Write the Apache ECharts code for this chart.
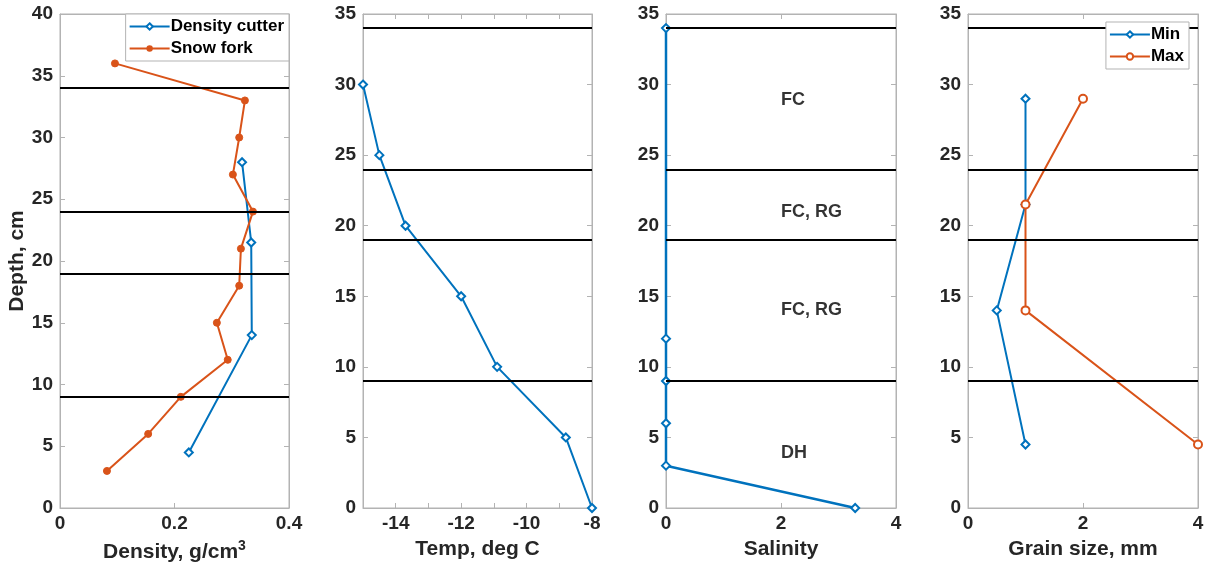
<!DOCTYPE html>
<html>
<head>
<meta charset="utf-8">
<script src="https://cdn.jsdelivr.net/npm/echarts@6/dist/echarts.min.js"></script>
<style>html,body{margin:0;padding:0;background:#fff;}#c{width:1209px;height:571px;}</style>
</head>
<body>
<div id="c"></div>
<script>
// ---- Data ----
var layerBoundaries = [9, 19, 24, 34];

var cutterDepth = [4.5, 14, 21.5, 28];
var cutterDensity = [0.225, 0.335, 0.334, 0.318];

var forkDepth = [3, 6, 9, 12, 15, 18, 21, 24, 27, 30, 33, 36];
var forkDensity = [0.082, 0.154, 0.211, 0.293, 0.274, 0.313, 0.316, 0.337, 0.302, 0.313, 0.323, 0.096];

var tempDepth = [30, 25, 20, 15, 10, 5, 0];
var tempValue = [-15, -14.5, -13.7, -12, -10.9, -8.8, -8];

var salDepth = [34, 12, 9, 6, 3, 0];
var salValue = [0, 0, 0, 0, 0, 3.29];

var layerLabels = ['FC', 'FC, RG', 'FC, RG', 'DH'];
var layerLabelDepths = [28.9, 21, 14, 3.9];
var layerLabelX = 2;

var grainDepth = [29, 21.5, 14, 4.5];
var grainMin = [1, 1, 0.5, 1];
var grainMax = [2, 1, 1, 4];

// ---- Styles ----
var BLUE = '#0072BD', ORANGE = '#D95319', TXT = '#262626', BOX = '#b3b3b3';
var FONT = 'Liberation Sans';
var lblStyle = {color: TXT, fontSize: 19, fontWeight: 'bold', fontFamily: FONT};
var nameStyle = {color: TXT, fontSize: 21, fontWeight: 'bold', fontFamily: FONT,
  rich: {sup: {fontSize: 14, fontWeight: 'bold', color: TXT, fontFamily: FONT, verticalAlign: 'top', padding: [0,0,12,0]}}};

var grids = [
  {left: 60, top: 14, width: 229, height: 494},
  {left: 363, top: 14, width: 229, height: 494},
  {left: 666, top: 14, width: 230, height: 494},
  {left: 968, top: 14, width: 230, height: 494}
];
grids.forEach(function(g){ g.show = true; g.borderColor = BOX; g.borderWidth = 1; g.backgroundColor = '#fff'; });

var xSpec = [
  {min: 0, max: 0.4, interval: 0.2, name: 'Density, g/cm{sup|3}'},
  {min: -15, max: -8, interval: 1, name: 'Temp, deg C'},
  {min: 0, max: 4, interval: 2, name: 'Salinity'},
  {min: 0, max: 4, interval: 2, name: 'Grain size, mm'}
];
var ySpec = [
  {min: 0, max: 40, interval: 5, name: 'Depth, cm'},
  {min: 0, max: 35, interval: 5, name: ''},
  {min: 0, max: 35, interval: 5, name: ''},
  {min: 0, max: 35, interval: 5, name: ''}
];

function xFmt(i){
  return function(v){
    if (i === 1) { var r = Math.round(v); if (r % 2 !== 0) return ''; return String(r); }
    if (i === 0) { return v === 0 ? '0' : String(Math.round(v*10)/10); }
    return String(v);
  };
}

var xAxes = [], yAxes = [];
for (var i = 0; i < 4; i++) {
  var xs = xSpec[i], ys = ySpec[i];
  var tickInt = (i === 1) ? function(idx, v){ return Math.round(v) % 2 === 0; } : 'auto';
  xAxes.push({type: 'value', gridIndex: i, position: 'bottom', min: xs.min, max: xs.max, interval: xs.interval,
    name: xs.name, nameLocation: 'middle', nameGap: 31, nameTextStyle: nameStyle,
    axisLine: {show: true, onZero: false, lineStyle: {color: BOX}},
    axisTick: {show: true, inside: true, length: 5, lineStyle: {color: BOX}, interval: tickInt},
    axisLabel: {show: true, margin: 6, formatter: xFmt(i), ...lblStyle}, splitLine: {show: false}});
  xAxes.push({type: 'value', gridIndex: i, position: 'top', min: xs.min, max: xs.max, interval: xs.interval,
    axisLine: {show: true, onZero: false, lineStyle: {color: BOX}},
    axisTick: {show: true, inside: true, length: 5, lineStyle: {color: BOX}, interval: tickInt},
    axisLabel: {show: false}, splitLine: {show: false}});
  yAxes.push({type: 'value', gridIndex: i, position: 'left', min: ys.min, max: ys.max, interval: ys.interval,
    name: ys.name, nameLocation: 'middle', nameGap: 32, nameRotate: 90, nameTextStyle: nameStyle,
    axisLine: {show: true, onZero: false, lineStyle: {color: BOX}},
    axisTick: {show: true, inside: true, length: 5, lineStyle: {color: BOX}},
    axisLabel: {show: true, margin: 7, ...lblStyle}, splitLine: {show: false}});
  yAxes.push({type: 'value', gridIndex: i, position: 'right', min: ys.min, max: ys.max, interval: ys.interval,
    axisLine: {show: true, onZero: false, lineStyle: {color: BOX}},
    axisTick: {show: true, inside: true, length: 5, lineStyle: {color: BOX}},
    axisLabel: {show: false}, splitLine: {show: false}});
}

function pairs(xv, yv){ return xv.map(function(x, k){ return [x, yv[k]]; }); }
function boundaryLines(){
  return {silent: true, symbol: 'none', label: {show: false},
    lineStyle: {color: '#000', width: 2, type: 'solid'},
    data: layerBoundaries.map(function(b){ return {yAxis: b}; })};
}
function openMarker(col){ return {color: '#fff', borderColor: col, borderWidth: 2}; }

var series = [
  {name: 'Density cutter', type: 'line', xAxisIndex: 0, yAxisIndex: 0, data: pairs(cutterDensity, cutterDepth),
    symbol: 'diamond', symbolSize: 8, lineStyle: {color: BLUE, width: 2}, itemStyle: openMarker(BLUE),
    markLine: boundaryLines(), z: 3},
  {name: 'Snow fork', type: 'line', xAxisIndex: 0, yAxisIndex: 0, data: pairs(forkDensity, forkDepth),
    symbol: 'circle', symbolSize: 7, lineStyle: {color: ORANGE, width: 2}, itemStyle: {color: ORANGE, borderColor: ORANGE}, z: 4},
  {name: 'Temp', type: 'line', xAxisIndex: 2, yAxisIndex: 2, data: pairs(tempValue, tempDepth),
    symbol: 'diamond', symbolSize: 8, lineStyle: {color: BLUE, width: 2}, itemStyle: openMarker(BLUE),
    markLine: boundaryLines(), z: 3},
  {name: 'Salinity', type: 'line', xAxisIndex: 4, yAxisIndex: 4, data: pairs(salValue, salDepth),
    symbol: 'diamond', symbolSize: 8, lineStyle: {color: BLUE, width: 2.5}, itemStyle: openMarker(BLUE),
    markLine: boundaryLines(), z: 3},
  {name: 'Layers', type: 'scatter', xAxisIndex: 4, yAxisIndex: 4, symbolSize: 0,
    data: layerLabelDepths.map(function(d, k){ return {value: [layerLabelX, d], name: layerLabels[k]}; }),
    label: {show: true, position: 'right', distance: 0, formatter: '{b}', color: '#000', fontSize: 18, fontWeight: 'bold', fontFamily: FONT},
    silent: true, z: 5},
  {name: 'Min', type: 'line', xAxisIndex: 6, yAxisIndex: 6, data: pairs(grainMin, grainDepth),
    symbol: 'diamond', symbolSize: 8, lineStyle: {color: BLUE, width: 2}, itemStyle: openMarker(BLUE),
    markLine: boundaryLines(), z: 3},
  {name: 'Max', type: 'line', xAxisIndex: 6, yAxisIndex: 6, data: pairs(grainMax, grainDepth),
    symbol: 'circle', symbolSize: 8, lineStyle: {color: ORANGE, width: 2}, itemStyle: openMarker(ORANGE), z: 4}
];

var legendCommon = {orient: 'vertical', backgroundColor: '#fff', borderColor: BOX, borderWidth: 1,
  itemWidth: 40, itemHeight: 8, itemGap: 5, padding: [4, 5, 4, 3], selectedMode: false,
  textStyle: {color: '#000', fontSize: 17, fontWeight: 'bold', fontFamily: FONT, padding: [0,0,0,-4]}, z: 10};

var option = {
  animation: false,
  backgroundColor: '#fff',
  grid: grids,
  xAxis: xAxes,
  yAxis: yAxes,
  legend: [
    Object.assign({}, legendCommon, {data: ['Density cutter', 'Snow fork'], right: 1209 - 289, top: 14}),
    Object.assign({}, legendCommon, {data: ['Min', 'Max'], right: 1209 - 1189, top: 22})
  ],
  series: series
};
var chart = echarts.init(document.getElementById('c'), null, {renderer: 'canvas'});
chart.setOption(option);
</script>
</body>
</html>
